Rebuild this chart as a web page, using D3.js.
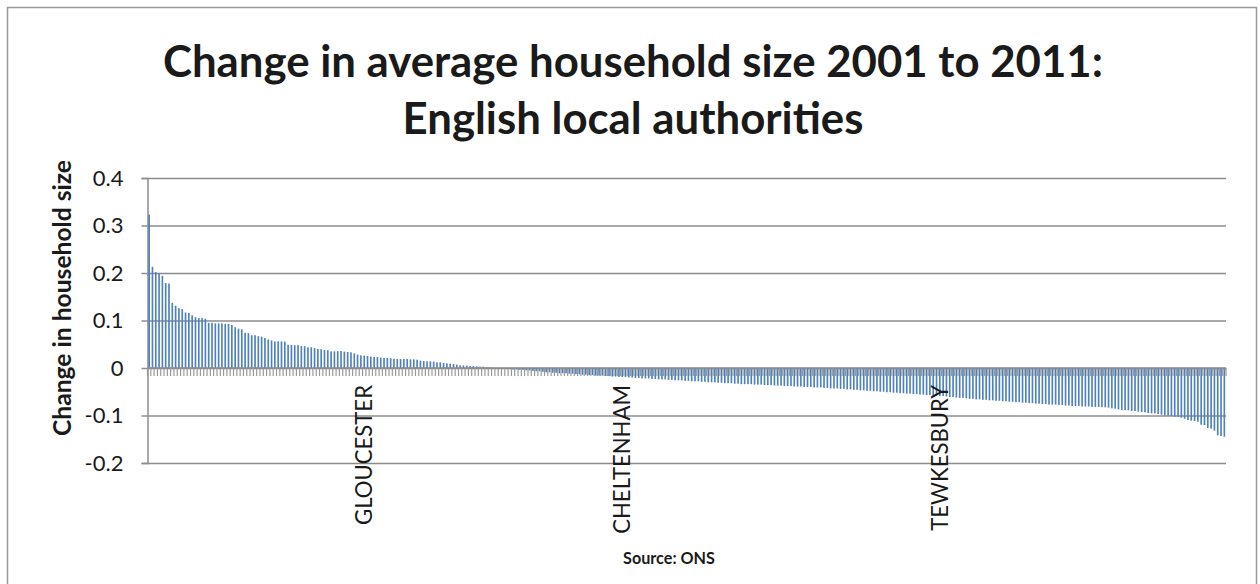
<!DOCTYPE html>
<html>
<head>
<meta charset="utf-8">
<script src="https://cdn.jsdelivr.net/npm/d3@7"></script>
<style>
  body { margin: 0; background: #fff; }
  svg { display: block; font-family: Lato, "Open Sans", sans-serif; }
</style>
</head>
<body>
<svg id="chart" width="1260" height="584"></svg>
<script>
// change in average household size 2001-2011, one value per English local authority, sorted
const positiveHigh = [
    0.323, 0.213, 0.202, 0.199, 0.194, 0.179, 0.178, 0.137, 0.131, 0.126,
    0.124, 0.117, 0.116, 0.111, 0.107, 0.105, 0.105, 0.104, 0.095, 0.095,
    0.094, 0.094, 0.094, 0.093, 0.093, 0.0905, 0.086, 0.083, 0.0815, 0.074,
    0.0735, 0.069, 0.069, 0.067, 0.066, 0.063, 0.060, 0.058, 0.056, 0.056,
    0.056, 0.0555, 0.049, 0.0485, 0.048, 0.048, 0.0464, 0.046, 0.0436, 0.0436,
    0.042, 0.040, 0.0395, 0.038, 0.0375, 0.035, 0.035, 0.0355
];
const positiveLow = [
    0.0358, 0.0344, 0.0337, 0.033, 0.0309, 0.0281, 0.0267, 0.026, 0.0253, 0.0239,
    0.0232, 0.0232, 0.0218, 0.0211, 0.0211, 0.0204, 0.0196, 0.0189, 0.0189, 0.0189,
    0.0189, 0.0182, 0.0182, 0.0175, 0.0154, 0.0147, 0.014, 0.014, 0.0133, 0.0119,
    0.0119, 0.0105, 0.0098, 0.0091, 0.0084, 0.007, 0.0056, 0.0056, 0.0049, 0.0042,
    0.0042, 0.0035, 0.0028, 0.0028, 0.0021, 0.0014, 0.0007
];
const negativeMid = [
    -0.000, -0.001, -0.001, -0.002, -0.002,
    -0.003, -0.003, -0.004, -0.004, -0.005, -0.005, -0.006, -0.007, -0.007, -0.008,
    -0.009, -0.009, -0.010, -0.010, -0.011, -0.011, -0.011, -0.012, -0.012, -0.013,
    -0.013, -0.014, -0.014, -0.015, -0.015, -0.016, -0.016, -0.016, -0.017, -0.017,
    -0.018, -0.018, -0.019, -0.019, -0.019, -0.020, -0.020, -0.021, -0.021, -0.022,
    -0.022, -0.022, -0.023, -0.023, -0.024, -0.024, -0.024, -0.025, -0.025, -0.026,
    -0.026, -0.026, -0.027, -0.027, -0.028, -0.028, -0.028, -0.029, -0.029, -0.030,
    -0.030, -0.030, -0.031, -0.031, -0.032, -0.032, -0.032, -0.033, -0.033, -0.034,
    -0.034, -0.034, -0.034, -0.035, -0.035, -0.035, -0.036, -0.036, -0.036, -0.037,
    -0.037, -0.037, -0.038, -0.038, -0.038, -0.039, -0.039, -0.039, -0.040, -0.040,
    -0.040, -0.041, -0.041, -0.041, -0.042, -0.042, -0.043, -0.043, -0.043, -0.044,
    -0.044, -0.045, -0.045, -0.046, -0.046, -0.047, -0.047, -0.048, -0.048, -0.049,
    -0.049, -0.050, -0.050, -0.051, -0.051, -0.052, -0.052, -0.053, -0.053, -0.054,
    -0.054, -0.055, -0.055, -0.056, -0.056, -0.057, -0.057, -0.058, -0.058, -0.059,
    -0.059, -0.060, -0.061, -0.061, -0.062, -0.063, -0.063, -0.064, -0.065, -0.065,
    -0.066, -0.066, -0.067, -0.067, -0.068, -0.068, -0.069, -0.069, -0.070, -0.070,
    -0.071, -0.071, -0.072, -0.072, -0.073, -0.073, -0.074, -0.074, -0.075, -0.075,
    -0.076, -0.076, -0.077, -0.077, -0.077, -0.078, -0.078, -0.079, -0.079, -0.080,
    -0.080, -0.080, -0.081, -0.081, -0.081, -0.082, -0.082, -0.082, -0.0825
];
const negativeTail = [
    -0.0828, -0.0835, -0.0849, -0.0856, -0.087, -0.0884, -0.0884, -0.0891, -0.0905, -0.0905,
    -0.0919, -0.0926, -0.0933, -0.0947, -0.0954, -0.0954, -0.0968, -0.0982, -0.0996, -0.1004,
    -0.101, -0.1025, -0.1025, -0.1046, -0.1067, -0.1095, -0.1109, -0.1116, -0.113, -0.1193,
    -0.12, -0.1263, -0.1277, -0.1319, -0.1418, -0.1432, -0.1446
];
const change = positiveHigh.concat(positiveLow, negativeMid, negativeTail);

// only the Gloucestershire districts carry a label
const labelledAt = [65, 143, 239];
const labelNames = ["GLOUCESTER", "CHELTENHAM", "TEWKESBURY"];
const yTicks = [-0.2, -0.1, 0, 0.1, 0.2, 0.3, 0.4];

const titleLines = ["Change in average household size 2001 to 2011:", "English local authorities"];
const yTitle = "Change in household size";
const xTitle = "Source: ONS";

const svg = d3.select("#chart");
const plot = {left: 147.5, right: 1226, top: 178, bottom: 463};
const gridColor = "#8c8c8c";

// shrink/grow a text's font size until it is the wanted width
function fitWidth(sel, target){
    const w = sel.node().getComputedTextLength();
    const size = parseFloat(sel.attr("font-size"));
    sel.attr("font-size", (size * target / w).toFixed(2));
}

svg.append("rect")
    .attr("x", 7.5).attr("y", 7.5)
    .attr("width", 1249).attr("height", 620)
    .attr("fill", "none")
    .attr("stroke", "#999")
    .attr("stroke-width", 1.5);

const x = d3.scaleBand()
    .domain(d3.range(change.length))
    .range([plot.left, plot.right])
    .paddingInner(0.5)
    .paddingOuter(0.25);

const y = d3.scaleLinear()
    .domain([-0.2, 0.4])
    .range([plot.bottom, plot.top]);

// gridlines
svg.append("g")
    .attr("transform", "translate(" + plot.left + ",0)")
    .call(d3.axisLeft(y).tickValues(yTicks).tickSize(-(plot.right - plot.left)).tickFormat(""))
    .call(g => g.select(".domain").remove())
    .call(g => g.selectAll("line").attr("stroke", gridColor).attr("stroke-width", 1.5));

// y axis with outward ticks
const yAxis = svg.append("g")
    .attr("transform", "translate(" + plot.left + ",0)")
    .call(d3.axisLeft(y).tickValues(yTicks).tickSize(6).tickPadding(18)
        .tickFormat(d => d === 0 ? "0" : String(+d.toFixed(1))));
yAxis.select(".domain").attr("stroke", gridColor).attr("stroke-width", 1.5);
yAxis.selectAll(".tick line").attr("stroke", gridColor).attr("stroke-width", 1.5);
yAxis.selectAll("text")
    .attr("font-family", "Lato, sans-serif")
    .attr("font-size", 22)
    .attr("fill", "#1a1a1a");

// bars
svg.append("g")
    .selectAll("rect")
    .data(change)
    .join("rect")
    .attr("x", (d, i) => x(i))
    .attr("width", x.bandwidth())
    .attr("y", d => y(Math.max(0, d)))
    .attr("height", d => Math.abs(y(d) - y(0)))
    .attr("fill", "#4f81bd");

// category axis: a tick at every category boundary, pointing down
const step = x.step();
svg.append("g")
    .selectAll("line")
    .data(d3.range(change.length + 1))
    .join("line")
    .attr("x1", k => x.range()[0] + k * step)
    .attr("x2", k => x.range()[0] + k * step)
    .attr("y1", y(0))
    .attr("y2", y(0) + 8)
    .attr("stroke", "#999")
    .attr("stroke-width", 1.2);
svg.append("line")
    .attr("x1", plot.left).attr("x2", plot.right)
    .attr("y1", y(0)).attr("y2", y(0))
    .attr("stroke", gridColor)
    .attr("stroke-width", 1.5);

// rotated category labels
const catLabels = svg.append("g")
    .selectAll("text")
    .data(labelledAt)
    .join("text")
    .attr("transform", i => "translate(" + (x(i) + x.bandwidth() / 2) + "," + (y(0) + 17) + ") rotate(-90)")
    .attr("dy", "0.36em")
    .attr("text-anchor", "end")
    .attr("font-size", 21)
    .attr("fill", "#1a1a1a")
    .text((d, k) => labelNames[k]);
fitWidth(d3.select(catLabels.nodes()[0]), 140);
catLabels.attr("font-size", d3.select(catLabels.nodes()[0]).attr("font-size"));

// titles
const title = svg.append("g")
    .attr("font-weight", "bold")
    .attr("text-anchor", "middle")
    .attr("fill", "#1a1a1a");
const t1 = title.append("text").attr("x", 633).attr("y", 77).attr("font-size", 40).text(titleLines[0]);
fitWidth(t1, 940);
title.append("text").attr("x", 633).attr("y", 134).attr("font-size", t1.attr("font-size")).text(titleLines[1]);

const yt = svg.append("text")
    .attr("transform", "translate(62,298) rotate(-90)")
    .attr("dy", "0.36em")
    .attr("text-anchor", "middle")
    .attr("font-weight", "bold")
    .attr("font-size", 20)
    .attr("fill", "#1a1a1a")
    .text(yTitle);
fitWidth(yt, 276);

const xt = svg.append("text")
    .attr("x", 669).attr("y", 564)
    .attr("text-anchor", "middle")
    .attr("font-weight", "bold")
    .attr("font-size", 18)
    .attr("fill", "#1a1a1a")
    .text(xTitle);
fitWidth(xt, 92);
</script>
</body>
</html>
